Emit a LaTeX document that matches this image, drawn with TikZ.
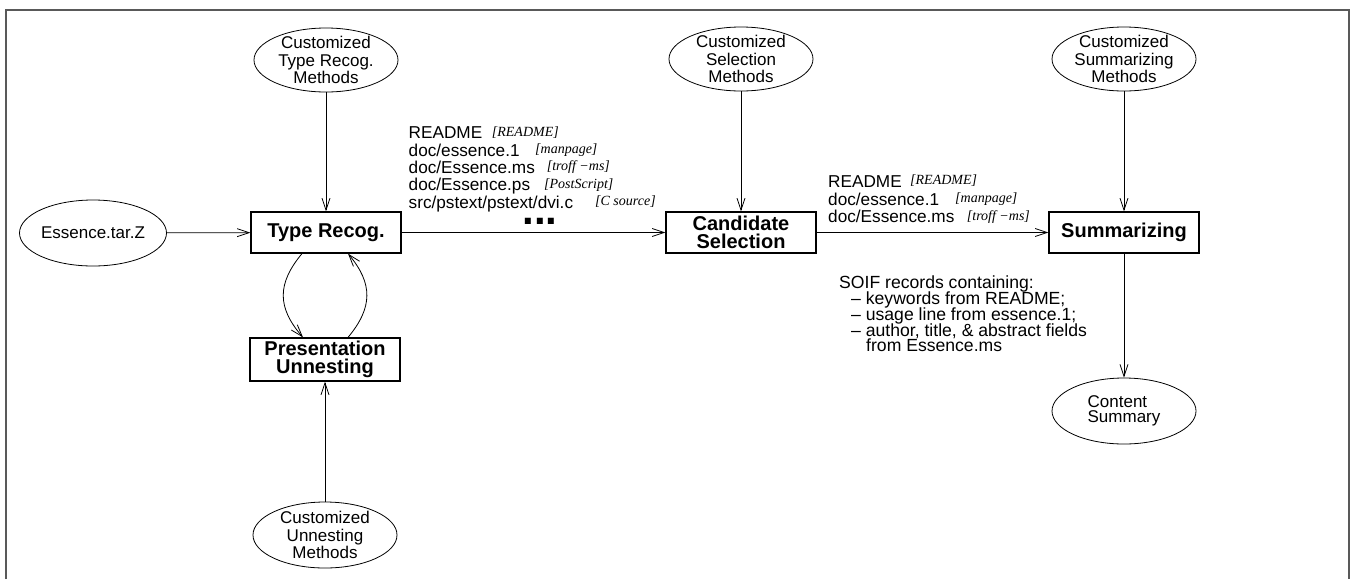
\documentclass[tikz,border=0pt]{standalone}
\usepackage{fontspec}
\setmainfont{Liberation Sans}
\newfontfamily\tms{Liberation Serif}
\usetikzlibrary{arrows.meta,shapes.geometric}
\begin{document}
\begin{tikzpicture}[x=1pt,y=-1pt,
  every node/.style={inner sep=0pt},
  oval/.style={draw,ellipse,line width=0.8pt,minimum width=144pt,minimum height=64pt,inner sep=0pt,inner ysep=-8pt,align=center,font=\fontsize{17}{17.5}\selectfont},
  procbox/.style={draw,rectangle,line width=1.2pt,minimum width=150pt,minimum height=41pt,align=center,font=\fontsize{20}{18}\selectfont\bfseries},
  flow/.style={line width=0.8pt,-{Straight Barb[length=12pt,width=8pt]}},
  lbl/.style={anchor=base west,font=\fontsize{17.2}{17}\selectfont},
  soif/.style={anchor=base west,font=\fontsize{17.6}{17}\selectfont},
  tag/.style={anchor=base west,font=\fontsize{14}{14}\selectfont\tms\itshape},
]
\useasboundingbox (0,0) rectangle (1351,579);
\draw[line width=1.6pt,black!65] (6,579) -- (6,10) -- (1349,10) -- (1349,579);

\node[oval] (ctr) at (326,60) {Customized\\Type Recog.\\Methods};
\node[oval] (csel) at (741,59) {Customized\\Selection\\Methods};
\node[oval] (csum) at (1124,59) {Customized\\Summarizing\\Methods};
\node[oval,minimum height=66pt] (ess) at (93,233) {Essence.tar.Z};
\node[procbox] (tr) at (326,232.5) {Type Recog.};
\node[procbox] (cs) at (741,232.5) {Candidate\\Selection};
\node[procbox] (sm) at (1124,232.5) {Summarizing};
\node[procbox,minimum height=43pt] (pu) at (325,359.5) {Presentation\\Unnesting};
\node[oval,minimum height=66pt] (cun) at (325,535) {Customized\\Unnesting\\Methods};
\node[oval,minimum height=66pt,align=left,font=\fontsize{17}{14.5}\selectfont] (csu) at (1124,411) {Content\\Summary};

\draw[flow] (ctr) -- (tr);
\draw[flow] (ess) -- (tr);
\draw[flow] (tr) -- (cs);
\draw[flow] (csel) -- (cs);
\draw[flow] (cs) -- (sm);
\draw[flow] (csum) -- (sm);
\draw[flow] (sm) -- (csu);
\draw[flow] (cun) -- (pu);
\draw[flow] ([xshift=-24pt]tr.south) .. controls +(-25,30) and +(-26,-30) .. ([xshift=-22pt]pu.north);
\draw[flow] ([xshift=23pt]pu.north) .. controls +(25,-30) and +(25,30) .. ([xshift=22pt]tr.south);

\node[lbl] (a1) at (408.5,138.7) {README};
\node[tag] (a1t) at (491.7,136.2) {[README]};
\node[lbl] (a2) at (408.5,156) {doc/essence.1};
\node[tag] (a2t) at (535,153.5) {[manpage]};
\node[lbl] (a3) at (408.5,173.3) {doc/Essence.ms};
\node[tag] (a3t) at (546.7,170.8) {[troff −ms]};
\node[lbl] (a4) at (408.5,190.6) {doc/Essence.ps};
\node[tag] (a4t) at (544,188.1) {[PostScript]};
\node[lbl] (a5) at (408.5,208) {src/pstext/pstext/dvi.c};
\node[tag] (a5t) at (595,205.5) {[C source]};
\node[anchor=base,font=\fontsize{42}{42}\selectfont\bfseries,text height=6pt,text depth=0pt] (dots) at (540,224) {...};

\node[lbl] (b1) at (828,187.3) {README};
\node[tag] (b1t) at (910,184.8) {[README]};
\node[lbl] (b2) at (828,205) {doc/essence.1};
\node[tag] (b2t) at (955,202.5) {[manpage]};
\node[lbl] (b3) at (828,222.7) {doc/Essence.ms};
\node[tag] (b3t) at (966.7,220.2) {[troff −ms]};

\node[soif] (s1) at (839,288.3) {SOIF records containing:};
\node[soif] (s2) at (851,304.5) {– keywords from README;};
\node[soif] (s3) at (851,320.7) {– usage line from essence.1;};
\node[soif] (s4) at (851,336.7) {– author, title, \& abstract fields};
\node[soif,text height=10pt] (s5) at (866,351) {from Essence.ms};
\end{tikzpicture}
\end{document}
